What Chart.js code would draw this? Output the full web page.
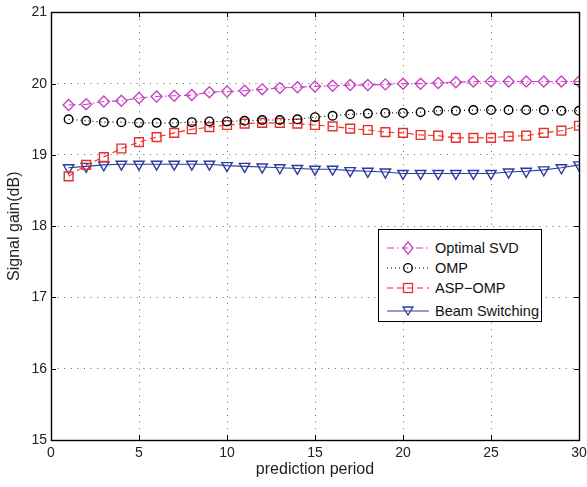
<!DOCTYPE html>
<html>
<head>
<meta charset="utf-8">
<script src="https://cdn.jsdelivr.net/npm/chart.js@4/dist/chart.umd.min.js"></script>
<style>
  html, body { margin: 0; padding: 0; background: #fff; }
  #wrap { position: relative; width: 587px; height: 487px; }
  #legend {
    position: absolute; left: 378px; top: 229px; width: 164px; height: 93px;
    border: 1px solid #000; background: #fff; box-sizing: border-box;
    font-family: "Liberation Sans", Arial, sans-serif; font-size: 14.5px; color: #111;
  }
  .row { position: absolute; left: 0; height: 20px; display: flex; align-items: center; }
  .row svg { display: block; margin-left: 8px; }
  .row span { margin-left: 6px; white-space: nowrap; }
</style>
</head>
<body>
<div id="wrap">
  <canvas id="c" width="587" height="487"></canvas>
  <div id="legend"></div>
</div>
<script>
const periods = [1,2,3,4,5,6,7,8,9,10,11,12,13,14,15,16,17,18,19,20,21,22,23,24,25,26,27,28,29,30];
const optimalSVD = [19.70,19.71,19.75,19.76,19.80,19.82,19.83,19.84,19.88,19.89,19.90,19.92,19.94,19.95,19.96,19.97,19.98,19.98,19.99,20.00,20.00,20.01,20.02,20.03,20.03,20.03,20.03,20.03,20.03,20.03];
const omp        = [19.50,19.48,19.46,19.46,19.45,19.45,19.45,19.46,19.47,19.47,19.48,19.49,19.49,19.50,19.53,19.55,19.57,19.58,19.59,19.59,19.60,19.62,19.62,19.63,19.63,19.63,19.63,19.63,19.62,19.62];
const aspOmp     = [18.70,18.86,18.97,19.09,19.18,19.25,19.31,19.36,19.39,19.42,19.44,19.45,19.45,19.44,19.42,19.40,19.37,19.35,19.32,19.31,19.28,19.27,19.24,19.24,19.24,19.26,19.27,19.31,19.34,19.41];
const beamSwitch = [18.82,18.84,18.86,18.87,18.87,18.87,18.87,18.87,18.87,18.85,18.84,18.83,18.82,18.81,18.80,18.80,18.78,18.77,18.76,18.74,18.74,18.74,18.74,18.74,18.74,18.76,18.77,18.79,18.82,18.86];
const xTicks = [0,5,10,15,20,25,30];
const yTicks = [15,16,17,18,19,20,21];
const seriesNames = ['Optimal SVD','OMP','ASP\u2212OMP','Beam Switching'];

const FONT = '"Liberation Sans", Arial, sans-serif';
const styles = [
  { color: '#C844C4', dash: [7,3,1.5,3], point: 'rectRot', r: 5.5, rot: 0 },
  { color: '#000000', dash: [1,3], point: 'circle', r: 4.3, rot: 0 },
  { color: '#E8302A', dash: [6,4], point: 'rect', r: 6.2, rot: 0 },
  { color: '#2C3C9E', dash: [], point: 'triangle', r: 6, rot: 180 }
];
const values = [optimalSVD, omp, aspOmp, beamSwitch];

const datasets = values.map((v, i) => ({
  label: seriesNames[i],
  data: periods.map((p, j) => ({ x: p, y: v[j] })),
  borderColor: styles[i].color,
  backgroundColor: 'rgba(0,0,0,0)',
  borderWidth: 1.1,
  borderDash: styles[i].dash,
  pointStyle: styles[i].point,
  pointRadius: styles[i].r,
  pointRotation: styles[i].rot,
  pointBorderWidth: 1.4,
  pointBorderColor: styles[i].color,
  pointBackgroundColor: 'rgba(0,0,0,0)',
  showLine: true,
  tension: 0
}));

const framePlugin = {
  id: 'frame',
  afterDraw(chart) {
    const { ctx, chartArea: a, scales } = chart;
    ctx.save();
    ctx.strokeStyle = '#000';
    ctx.lineWidth = 1;
    ctx.setLineDash([]);
    const L = 5;
    ctx.beginPath();
    xTicks.forEach(t => {
      const x = Math.round(scales.x.getPixelForValue(t)) + 0.5;
      ctx.moveTo(x, a.bottom); ctx.lineTo(x, a.bottom - L);
      ctx.moveTo(x, a.top); ctx.lineTo(x, a.top + L);
    });
    yTicks.forEach(t => {
      const y = Math.round(scales.y.getPixelForValue(t)) + 0.5;
      ctx.moveTo(a.left, y); ctx.lineTo(a.left + L, y);
      ctx.moveTo(a.right, y); ctx.lineTo(a.right - L, y);
    });
    ctx.stroke();
    ctx.lineWidth = 1.4;
    ctx.strokeRect(Math.round(a.left) + 0.5, Math.round(a.top) + 0.5, Math.round(a.right - a.left), Math.round(a.bottom - a.top));
    ctx.restore();
  }
};

new Chart(document.getElementById('c'), {
  type: 'scatter',
  data: { datasets },
  plugins: [framePlugin],
  options: {
    responsive: false,
    animation: false,
    layout: { padding: { top: 11, right: 8, left: 0, bottom: 0 } },
    plugins: { legend: { display: false }, tooltip: { enabled: false } },
    scales: {
      x: {
        type: 'linear', min: 0, max: 30,
        afterBuildTicks(s) { s.ticks = xTicks.map(v => ({ value: v })); },
        afterFit(s) { s.height = 47; s.paddingRight = 0; s.paddingLeft = 0; },
        ticks: { color: '#222', font: { family: FONT, size: 14 }, padding: 5, maxRotation: 0 },
        grid: { color: '#666', lineWidth: 1, drawTicks: false },
        border: { display: false, dash: [1, 5.6] },
        title: { display: true, text: 'prediction period', color: '#222', font: { family: FONT, size: 16 }, padding: { top: 0, bottom: 8 } }
      },
      y: {
        type: 'linear', min: 15, max: 21,
        afterBuildTicks(s) { s.ticks = yTicks.map(v => ({ value: v })); },
        afterFit(s) { s.width = 51; },
        ticks: { color: '#222', font: { family: FONT, size: 14 }, padding: 4 },
        grid: { color: '#666', lineWidth: 1, drawTicks: false },
        border: { display: false, dash: [1, 5.6] },
        title: { display: true, text: 'Signal gain(dB)', color: '#222', font: { family: FONT, size: 16 }, padding: { top: 5, bottom: 0 } }
      }
    }
  }
});

// HTML legend
const legend = document.getElementById('legend');
const rowTops = [8, 28, 48, 71];
function markerSvg(i) {
  const c = styles[i].color;
  const dash = styles[i].dash.length ? `stroke-dasharray="${styles[i].dash.join(',')}"` : '';
  let m = '';
  if (i === 0) m = `<polygon points="21,4 26,10 21,16 16,10" fill="none" stroke="${c}" stroke-width="1.3"/>`;
  if (i === 1) m = `<circle cx="21" cy="10" r="4.3" fill="none" stroke="${c}" stroke-width="1.3"/>`;
  if (i === 2) m = `<rect x="16.5" y="5.5" width="9" height="9" fill="none" stroke="${c}" stroke-width="1.3"/>`;
  if (i === 3) m = `<polygon points="16,6 26,6 21,14" fill="none" stroke="${c}" stroke-width="1.3"/>`;
  return `<svg width="42" height="20" viewBox="0 0 42 20"><line x1="0" y1="10" x2="42" y2="10" stroke="${c}" stroke-width="1.1" ${dash}/>${m}</svg>`;
}
seriesNames.forEach((n, i) => {
  const row = document.createElement('div');
  row.className = 'row';
  row.style.top = rowTops[i] + 'px';
  row.innerHTML = markerSvg(i) + `<span>${n}</span>`;
  legend.appendChild(row);
});
</script>
</body>
</html>
